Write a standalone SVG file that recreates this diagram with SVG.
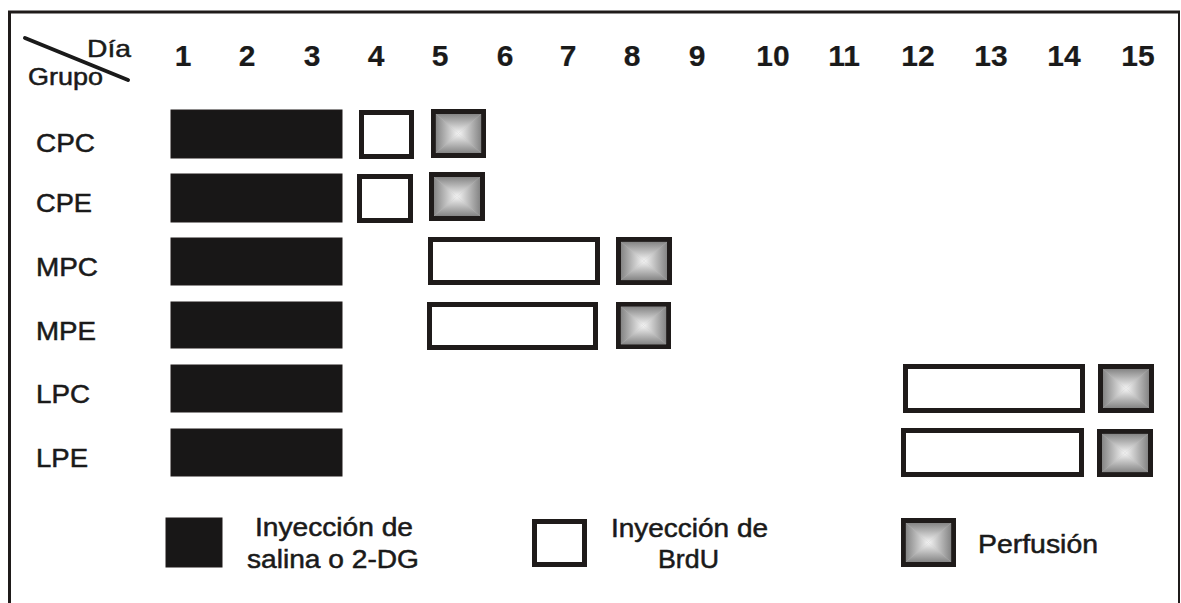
<svg xmlns="http://www.w3.org/2000/svg" xmlns:xlink="http://www.w3.org/1999/xlink" width="1181" height="603" viewBox="0 0 1181 603">
<style>
  .t { font-family: "Liberation Sans", Arial, sans-serif; fill: #1a1a1a; stroke: #1a1a1a; stroke-width: 0.5; }
  .num { font-size: 30px; font-weight: bold; text-anchor: middle; stroke-width: 0.2; }
  .lab { font-size: 25px; }
  .leg { font-size: 25px; }
  .bar { fill: #181717; stroke: #1f1b1a; stroke-width: 1; }
  .open { fill: #ffffff; stroke: #1f1b1a; stroke-width: 5; }
  .frame { stroke: #1f1b1a; fill: none; }
</style>
<defs>
  <linearGradient id="gT" x1="0" y1="0" x2="0" y2="1"><stop offset="0" stop-color="#858585"/><stop offset="1" stop-color="#f4f4f4"/></linearGradient>
  <linearGradient id="gB" x1="0" y1="1" x2="0" y2="0"><stop offset="0" stop-color="#858585"/><stop offset="1" stop-color="#f4f4f4"/></linearGradient>
  <linearGradient id="gL" x1="0" y1="0" x2="1" y2="0"><stop offset="0" stop-color="#858585"/><stop offset="1" stop-color="#f4f4f4"/></linearGradient>
  <linearGradient id="gR" x1="1" y1="0" x2="0" y2="0"><stop offset="0" stop-color="#858585"/><stop offset="1" stop-color="#f4f4f4"/></linearGradient>
  <symbol id="perf" viewBox="0 0 56 49" preserveAspectRatio="none">
    <rect x="0" y="0" width="56" height="49" fill="#1f1b1a"/>
    <rect x="5" y="5" width="46" height="39" fill="#bdbdbd"/>
    <polygon points="5,5 51,5 28,24.5" fill="url(#gT)"/>
    <polygon points="5,44 51,44 28,24.5" fill="url(#gB)"/>
    <polygon points="5,5 5,44 28,24.5" fill="url(#gL)"/>
    <polygon points="51,5 51,44 28,24.5" fill="url(#gR)"/>
  </symbol>
</defs>

<g id="frame">
  <line class="frame" x1="8" y1="12" x2="1180" y2="12" stroke-width="3"/>
  <line class="frame" x1="9.5" y1="11" x2="9.5" y2="603" stroke-width="3"/>
  <line class="frame" x1="1179" y1="11" x2="1179" y2="603" stroke-width="2"/>
</g>

<g id="header">
  <line x1="25" y1="38" x2="128" y2="80" stroke="#1a1a1a" stroke-width="4" stroke-linecap="round"/>
  <text class="t" x="87" y="57" font-size="24" textLength="44" lengthAdjust="spacingAndGlyphs">Día</text>
  <text class="t" x="28" y="85" font-size="24" textLength="75" lengthAdjust="spacingAndGlyphs">Grupo</text>
  <text class="t num" x="183" y="66">1</text>
  <text class="t num" x="247" y="66">2</text>
  <text class="t num" x="312" y="66">3</text>
  <text class="t num" x="376" y="66">4</text>
  <text class="t num" x="440" y="66">5</text>
  <text class="t num" x="505" y="66">6</text>
  <text class="t num" x="568" y="66">7</text>
  <text class="t num" x="632" y="66">8</text>
  <text class="t num" x="697" y="66">9</text>
  <text class="t num" x="773" y="66">10</text>
  <text class="t num" x="844" y="66">11</text>
  <text class="t num" x="918" y="66">12</text>
  <text class="t num" x="991" y="66">13</text>
  <text class="t num" x="1064" y="66">14</text>
  <text class="t num" x="1138" y="66">15</text>
</g>

<g id="row-CPC">
  <text class="t lab" x="36" y="152" textLength="59" lengthAdjust="spacingAndGlyphs">CPC</text>
  <rect class="bar" x="171" y="110" width="171" height="48"/>
  <rect class="open" x="361.5" y="112.5" width="50" height="44"/>
  <use href="#perf" x="431" y="109" width="55" height="49"/>
</g>
<g id="row-CPE">
  <text class="t lab" x="36" y="212" textLength="56" lengthAdjust="spacingAndGlyphs">CPE</text>
  <rect class="bar" x="171" y="174" width="171" height="48"/>
  <rect class="open" x="359.5" y="176.5" width="51" height="44"/>
  <use href="#perf" x="429" y="172" width="56" height="49"/>
</g>
<g id="row-MPC">
  <text class="t lab" x="36" y="276" textLength="62" lengthAdjust="spacingAndGlyphs">MPC</text>
  <rect class="bar" x="171" y="238" width="171" height="47"/>
  <rect class="open" x="430.5" y="239.5" width="167" height="43"/>
  <use href="#perf" x="616" y="237" width="56" height="48"/>
</g>
<g id="row-MPE">
  <text class="t lab" x="36" y="340" textLength="60" lengthAdjust="spacingAndGlyphs">MPE</text>
  <rect class="bar" x="171" y="302" width="171" height="46"/>
  <rect class="open" x="429.5" y="304.5" width="166" height="43"/>
  <use href="#perf" x="616" y="302" width="55" height="47"/>
</g>
<g id="row-LPC">
  <text class="t lab" x="36" y="403" textLength="54" lengthAdjust="spacingAndGlyphs">LPC</text>
  <rect class="bar" x="171" y="365" width="171" height="47"/>
  <rect class="open" x="905.5" y="366.5" width="177" height="44"/>
  <use href="#perf" x="1098" y="364" width="56" height="49"/>
</g>
<g id="row-LPE">
  <text class="t lab" x="36" y="467" textLength="52" lengthAdjust="spacingAndGlyphs">LPE</text>
  <rect class="bar" x="171" y="429" width="171" height="47"/>
  <rect class="open" x="903.5" y="430.5" width="178" height="44"/>
  <use href="#perf" x="1097" y="429" width="56" height="48"/>
</g>

<g id="legend-saline">
  <rect class="bar" x="166" y="518" width="56" height="49"/>
  <text class="t leg" x="255" y="536" textLength="158" lengthAdjust="spacingAndGlyphs">Inyección de</text>
  <text class="t leg" x="247" y="568" textLength="172" lengthAdjust="spacingAndGlyphs">salina o 2-DG</text>
</g>
<g id="legend-brdu">
  <rect class="open" x="534.5" y="521.5" width="50" height="43"/>
  <text class="t leg" x="611" y="537" textLength="157" lengthAdjust="spacingAndGlyphs">Inyección de</text>
  <text class="t leg" x="658" y="568" textLength="61" lengthAdjust="spacingAndGlyphs">BrdU</text>
</g>
<g id="legend-perfusion">
  <use href="#perf" x="901" y="518" width="55" height="49"/>
  <text class="t leg" x="978" y="553" textLength="120" lengthAdjust="spacingAndGlyphs">Perfusión</text>
</g>
</svg>
